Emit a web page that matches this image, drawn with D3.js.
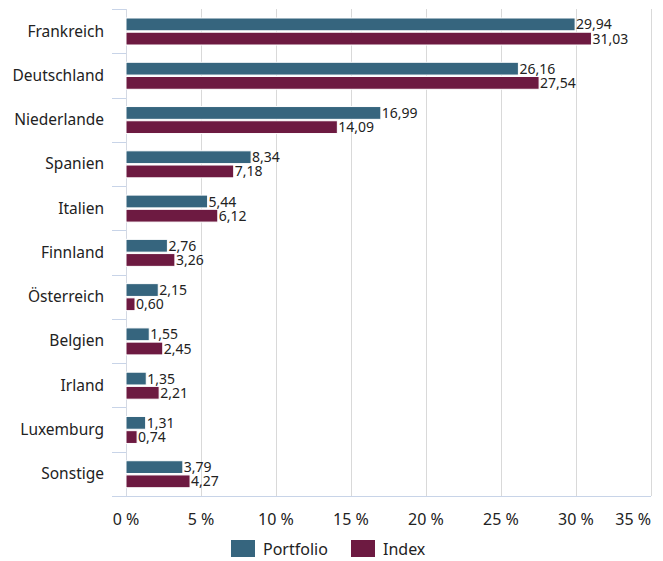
<!DOCTYPE html>
<html>
<head>
    <meta charset="utf-8">
    <title>Länderallokation</title>
    <script src="https://d3js.org/d3.v7.min.js"></script>
    <style>
        body {
            margin: 0;
            background-color: #fff;
            font-family: "Noto Sans", "Open Sans", sans-serif;
        }
        .cat-label { font-size: 15.5px; fill: #222; }
        .val-label { font-size: 14px; fill: #222; }
        .tick-label { font-size: 16px; fill: #222; }
        .legend-label { font-size: 16px; fill: #222; }
    </style>
</head>
<body>
    <div id="chart"></div>
    <script>
        const categories = ['Frankreich', 'Deutschland', 'Niederlande', 'Spanien', 'Italien', 'Finnland',
            'Österreich', 'Belgien', 'Irland', 'Luxemburg', 'Sonstige'];
        const portfolio = [29.94, 26.16, 16.99, 8.34, 5.44, 2.76, 2.15, 1.55, 1.35, 1.31, 3.79];
        const indexValues = [31.03, 27.54, 14.09, 7.18, 6.12, 3.26, 0.60, 2.45, 2.21, 0.74, 4.27];
        const xTicks = [0, 5, 10, 15, 20, 25, 30, 35];
        const seriesNames = ['Portfolio', 'Index'];
        const colors = ['#36657e', '#6d1a41'];

        const width = 663, height = 561;
        const plotLeft = 126, plotRight = 651, plotTop = 9, plotBottom = 496;

        const svg = d3.select('#chart')
            .append('svg')
            .attr('width', width)
            .attr('height', height);

        const x = d3.scaleLinear().domain([0, 35]).range([plotLeft, plotRight]);
        const y = d3.scaleBand().domain(categories).range([plotTop, plotBottom]);
        const inner = d3.scaleBand().domain(seriesNames).range([9, 36]).paddingInner(0.1);

        // gridlines
        svg.append('g')
            .selectAll('line')
            .data(xTicks.slice(1))
            .enter()
            .append('line')
            .attr('x1', d => Math.round(x(d)) + 0.5)
            .attr('x2', d => Math.round(x(d)) + 0.5)
            .attr('y1', plotTop)
            .attr('y2', plotBottom)
            .attr('stroke', '#d9d9d9')
            .attr('stroke-width', 1);

        // y axis line and category ticks
        svg.append('line')
            .attr('x1', plotLeft + 0.5).attr('x2', plotLeft + 0.5)
            .attr('y1', plotTop).attr('y2', plotBottom)
            .attr('stroke', '#d4d9e3');

        const tickYs = categories.map(c => y(c)).concat([plotBottom]);
        svg.append('g')
            .selectAll('line')
            .data(tickYs)
            .enter()
            .append('line')
            .attr('x1', 112)
            .attr('x2', plotLeft)
            .attr('y1', d => Math.round(d) + 0.5)
            .attr('y2', d => Math.round(d) + 0.5)
            .attr('stroke', '#c8d4e8');

        // bottom axis line
        svg.append('line')
            .attr('x1', 112).attr('x2', plotRight)
            .attr('y1', plotBottom + 0.5).attr('y2', plotBottom + 0.5)
            .attr('stroke', '#c8d4e8');

        // bars
        const data = categories.map((c, i) => ({ cat: c, values: [portfolio[i], indexValues[i]] }));
        const groups = svg.append('g')
            .selectAll('g')
            .data(data)
            .enter()
            .append('g')
            .attr('transform', d => `translate(0,${y(d.cat)})`);

        groups.selectAll('rect')
            .data(d => d.values.map((v, j) => ({ v, s: seriesNames[j], j })))
            .enter()
            .append('rect')
            .attr('x', x(0))
            .attr('y', d => inner(d.s))
            .attr('width', d => x(d.v) - x(0))
            .attr('height', inner.bandwidth())
            .attr('fill', d => colors[d.j])
            .attr('stroke', '#fff')
            .attr('stroke-width', 1);

        groups.selectAll('text')
            .data(d => d.values.map((v, j) => ({ v, s: seriesNames[j], j })))
            .enter()
            .append('text')
            .attr('class', 'val-label')
            .attr('x', d => x(d.v) + 1)
            .attr('y', d => inner(d.s) + inner.bandwidth() / 2)
            .attr('dy', '0.36em')
            .text(d => d.v.toFixed(2).replace('.', ','));

        // category labels
        svg.append('g')
            .selectAll('text')
            .data(categories)
            .enter()
            .append('text')
            .attr('class', 'cat-label')
            .attr('x', 104)
            .attr('y', d => y(d) + y.bandwidth() / 2)
            .attr('dy', '0.35em')
            .attr('text-anchor', 'end')
            .text(d => d);

        // x tick labels (last one kept inside the right edge)
        svg.append('g')
            .selectAll('text')
            .data(xTicks)
            .enter()
            .append('text')
            .attr('class', 'tick-label')
            .attr('x', (d, i) => i === xTicks.length - 1 ? plotRight : x(d))
            .attr('y', 525)
            .attr('text-anchor', (d, i) => i === xTicks.length - 1 ? 'end' : 'middle')
            .text(d => d + ' %');

        // legend
        const legendX = [231, 351];
        const legend = svg.append('g')
            .selectAll('g')
            .data(seriesNames)
            .enter()
            .append('g')
            .attr('transform', (d, i) => `translate(${legendX[i]},540)`);
        legend.append('rect')
            .attr('width', 24)
            .attr('height', 17)
            .attr('fill', (d, i) => colors[i]);
        legend.append('text')
            .attr('class', 'legend-label')
            .attr('x', 32)
            .attr('y', 9)
            .attr('dy', '0.36em')
            .text(d => d);
    </script>
</body>
</html>
